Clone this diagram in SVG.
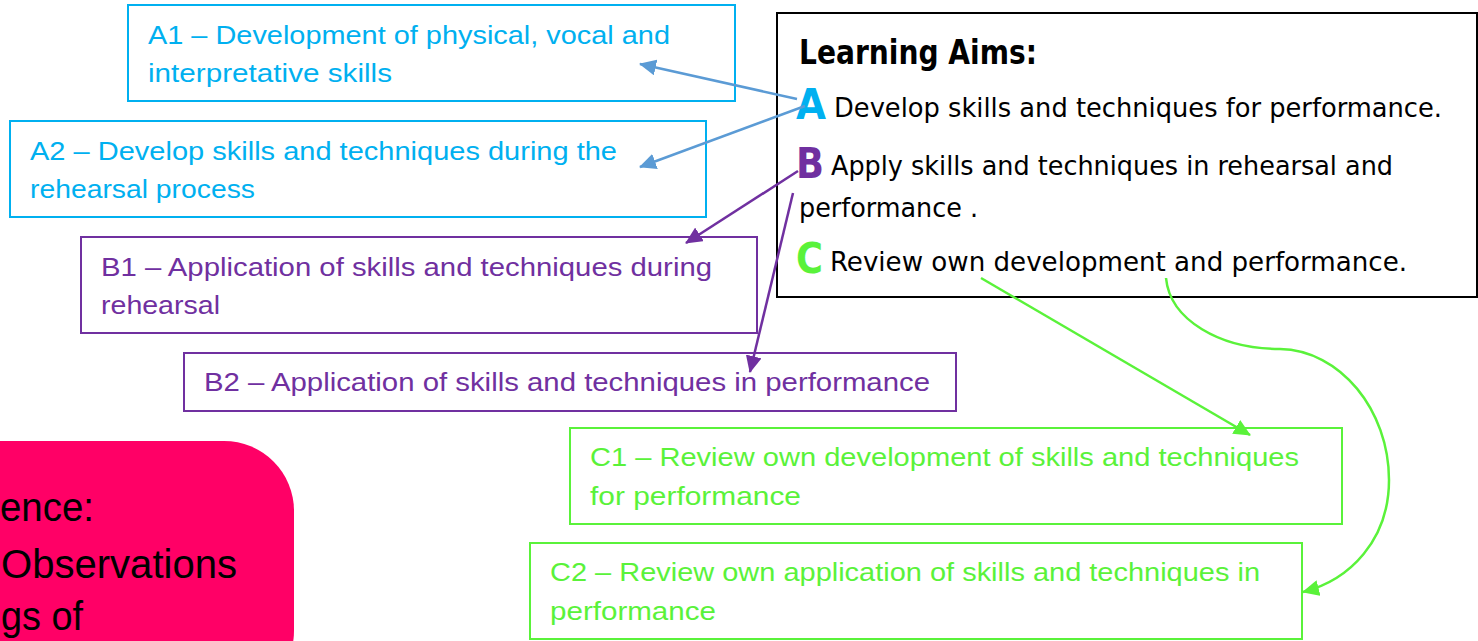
<svg xmlns="http://www.w3.org/2000/svg" width="1478" height="641" viewBox="0 0 1478 641">
<style>
.t{font-family:"Liberation Sans",Arial,sans-serif;font-size:25px}
.c{font-family:"DejaVu Sans Condensed","Liberation Sans",sans-serif;font-size:27px;fill:#000}
.L{font-family:"DejaVu Sans Condensed","Liberation Sans",sans-serif;font-weight:bold}
.p{font-family:"Liberation Sans",Arial,sans-serif;font-size:40px;fill:#000}
.ba{fill:#fff;stroke:#00b0f0;stroke-width:2}
.bb{fill:#fff;stroke:#7030a0;stroke-width:2}
.bc{fill:#fff;stroke:#5af23a;stroke-width:2}
.ta{fill:#00b0f0}.tb{fill:#7030a0}.tc{fill:#5af23a}
.k{fill:none;stroke-width:2.5}
</style>
<defs>
<marker id="mA" markerUnits="userSpaceOnUse" markerWidth="18" markerHeight="16" refX="16" refY="8" orient="auto"><path d="M0,0L17,8L0,16z" fill="#5b9bd5"/></marker>
<marker id="mB" markerUnits="userSpaceOnUse" markerWidth="18" markerHeight="16" refX="16" refY="8" orient="auto"><path d="M0,0L17,8L0,16z" fill="#7030a0"/></marker>
<marker id="mC" markerUnits="userSpaceOnUse" markerWidth="18" markerHeight="16" refX="16" refY="8" orient="auto"><path d="M0,0L17,8L0,16z" fill="#5af23a"/></marker>
</defs>
<rect width="1478" height="641" fill="#fff"/>
<g id="evidence">
<rect x="-80" y="441" width="374" height="260" rx="70" fill="#ff0066"/>
<text class="p" x="0" y="521" textLength="94" lengthAdjust="spacingAndGlyphs">ence:</text>
<text class="p" x="1" y="578" textLength="236" lengthAdjust="spacingAndGlyphs">Observations</text>
<text class="p" x="1" y="630" textLength="82" lengthAdjust="spacingAndGlyphs">gs of</text>
</g>
<g id="aims">
<rect x="777" y="13" width="700" height="284" fill="#fff" stroke="#000" stroke-width="2"/>
<text class="L" x="799" y="64" font-size="33" textLength="238" lengthAdjust="spacingAndGlyphs">Learning Aims:</text>
<text class="L ta" x="796" y="119" font-size="42" textLength="30" lengthAdjust="spacingAndGlyphs">A</text>
<text class="c" x="834" y="117" textLength="608" lengthAdjust="spacingAndGlyphs">Develop skills and techniques for performance.</text>
<text class="L tb" x="796" y="178" font-size="42" textLength="28" lengthAdjust="spacingAndGlyphs">B</text>
<text class="c" x="831" y="175" textLength="562" lengthAdjust="spacingAndGlyphs">Apply skills and techniques in rehearsal and</text>
<text class="c" x="799" y="217" textLength="179" lengthAdjust="spacingAndGlyphs">performance .</text>
<text class="L tc" x="796" y="273" font-size="42" textLength="27" lengthAdjust="spacingAndGlyphs">C</text>
<text class="c" x="830" y="271" textLength="577" lengthAdjust="spacingAndGlyphs">Review own development and performance.</text>
</g>
<g id="A1">
<rect class="ba" x="128" y="5" width="607" height="96"/>
<text class="t ta" x="148" y="44" textLength="522" lengthAdjust="spacingAndGlyphs">A1 – Development of physical, vocal and</text>
<text class="t ta" x="148" y="82" textLength="244" lengthAdjust="spacingAndGlyphs">interpretative skills</text>
</g>
<g id="A2">
<rect class="ba" x="10" y="121" width="696" height="96"/>
<text class="t ta" x="30" y="160" textLength="587" lengthAdjust="spacingAndGlyphs">A2 – Develop skills and techniques during the</text>
<text class="t ta" x="30" y="198" textLength="225" lengthAdjust="spacingAndGlyphs">rehearsal process</text>
</g>
<g id="B1">
<rect class="bb" x="81" y="237" width="676" height="96"/>
<text class="t tb" x="101" y="276" textLength="611" lengthAdjust="spacingAndGlyphs">B1 – Application of skills and techniques during</text>
<text class="t tb" x="101" y="314" textLength="119" lengthAdjust="spacingAndGlyphs">rehearsal</text>
</g>
<g id="B2">
<rect class="bb" x="184" y="353" width="772" height="58"/>
<text class="t tb" x="204" y="391" textLength="726" lengthAdjust="spacingAndGlyphs">B2 – Application of skills and techniques in performance</text>
</g>
<g id="C1">
<rect class="bc" x="570" y="428" width="772" height="96"/>
<text class="t tc" x="590" y="466" textLength="709" lengthAdjust="spacingAndGlyphs">C1 – Review own development of skills and techniques</text>
<text class="t tc" x="590" y="505" textLength="211" lengthAdjust="spacingAndGlyphs">for performance</text>
</g>
<g id="C2">
<rect class="bc" x="530" y="543" width="772" height="96"/>
<text class="t tc" x="550" y="581" textLength="710" lengthAdjust="spacingAndGlyphs">C2 – Review own application of skills and techniques in</text>
<text class="t tc" x="550" y="620" textLength="166" lengthAdjust="spacingAndGlyphs">performance</text>
</g>
<g id="connectors">
<path class="k" d="M797,99L640,64" stroke="#5b9bd5" marker-end="url(#mA)"/>
<path class="k" d="M805,106L640,167" stroke="#5b9bd5" marker-end="url(#mA)"/>
<path class="k" d="M798,171L686,243" stroke="#7030a0" marker-end="url(#mB)"/>
<path class="k" d="M793,193L750,372" stroke="#7030a0" marker-end="url(#mB)"/>
<path class="k" d="M981,278L1250,435" stroke="#5af23a" marker-end="url(#mC)"/>
<path class="k" d="M1166,278C1170,320 1220,349 1280,349C1340,350 1389,410 1389,480C1389,540 1350,580 1303,592" stroke="#5af23a" marker-end="url(#mC)"/>
</g>
</svg>
